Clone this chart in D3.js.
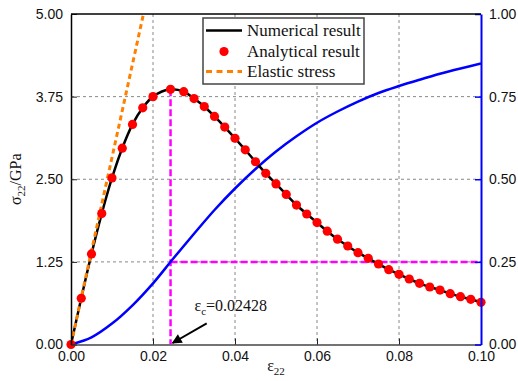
<!DOCTYPE html>
<html>
<head>
<meta charset="utf-8">
<script src="https://cdn.jsdelivr.net/npm/d3@7"></script>
<style>
  html, body { margin: 0; padding: 0; background: #fff; }
  svg { display: block; }
  .serif { font-family: "Liberation Serif", "DejaVu Serif", "Times New Roman", serif; }
  .sans { font-family: "Liberation Sans", Arial, sans-serif; }
</style>
</head>
<body>
<div id="chart"></div>
<script>
// ── Data ──────────────────────────────────────────────────────────────────────
const strain = [0, 0.0025, 0.005, 0.0075, 0.01, 0.0125, 0.015, 0.0175, 0.02, 0.02428,
  0.0275, 0.03, 0.0325, 0.035, 0.0375, 0.04, 0.0425, 0.045, 0.0475, 0.05,
  0.0525, 0.055, 0.0575, 0.06, 0.0625, 0.065, 0.0675, 0.07, 0.0725, 0.075,
  0.0775, 0.08, 0.0825, 0.085, 0.0875, 0.09, 0.0925, 0.095, 0.0975, 0.1];
const stress = [0, 0.70, 1.37, 1.98, 2.52, 2.97, 3.33, 3.58, 3.75, 3.86,
  3.825, 3.72, 3.60, 3.45, 3.29, 3.12, 2.945, 2.765, 2.59, 2.43,
  2.27, 2.11, 1.974, 1.845, 1.714, 1.593, 1.49, 1.389, 1.304, 1.218,
  1.132, 1.062, 0.991, 0.926, 0.87, 0.824, 0.769, 0.723, 0.684, 0.638];

const damageStrain = [0, 0.005, 0.01, 0.015, 0.02, 0.025, 0.03, 0.035, 0.04, 0.045, 0.05,
  0.055, 0.06, 0.065, 0.07, 0.075, 0.08, 0.085, 0.09, 0.095, 0.1];
const damage = [0, 0.0216, 0.0632, 0.1185, 0.185, 0.261, 0.335, 0.407, 0.472, 0.531, 0.584,
  0.630, 0.671, 0.705, 0.735, 0.761, 0.782, 0.801, 0.819, 0.835, 0.850];

const elasticStrain = [0, 0.01767];
const elasticStress = [0, 5];

const epsC = 0.02428;
const peakStress = 3.86;
const damageAtPeak = 0.25;

const xTicks = [0, 0.02, 0.04, 0.06, 0.08, 0.1];
const leftTicks = [0, 1.25, 2.5, 3.75, 5];
const rightTicks = [0, 0.25, 0.5, 0.75, 1];

const legendLabels = ['Numerical result', 'Analytical result', 'Elastic stress'];

// ── Layout ────────────────────────────────────────────────────────────────────
const W = 518, H = 381;
const L = 71, R = 481, T = 14, B = 344.5;

const x = d3.scaleLinear().domain([0, 0.1]).range([L, R]);
const yL = d3.scaleLinear().domain([0, 5]).range([B, T]);
const yR = d3.scaleLinear().domain([0, 1]).range([B, T]);

const svg = d3.select('#chart').append('svg')
  .attr('width', W).attr('height', H);

const defs = svg.append('defs');
defs.append('clipPath').attr('id', 'plot-clip')
  .append('rect').attr('x', L).attr('y', T).attr('width', R - L).attr('height', B - T);
defs.append('marker')
  .attr('id', 'arrow')
  .attr('viewBox', '0 0 10 10')
  .attr('refX', 9).attr('refY', 5)
  .attr('markerWidth', 5.5).attr('markerHeight', 5)
  .attr('markerUnits', 'strokeWidth')
  .attr('orient', 'auto')
  .append('path').attr('d', 'M0,0 L10,5 L0,10 Z').attr('fill', '#000');

// ── Grid ──────────────────────────────────────────────────────────────────────
const grid = svg.append('g');
xTicks.filter(d => d > 0 && d < 0.1).forEach(d => {
  grid.append('line')
    .attr('x1', x(d)).attr('x2', x(d)).attr('y1', T).attr('y2', B)
    .attr('stroke', '#888').attr('stroke-width', 1).attr('stroke-dasharray', '3,3');
});
leftTicks.filter(d => d > 0 && d < 5).forEach(d => {
  grid.append('line')
    .attr('x1', L).attr('x2', R).attr('y1', yL(d)).attr('y2', yL(d))
    .attr('stroke', '#888').attr('stroke-width', 1).attr('stroke-dasharray', '3,3');
});

const plot = svg.append('g').attr('clip-path', 'url(#plot-clip)');

// ── Critical strain guides ────────────────────────────────────────────────────
plot.append('line')
  .attr('x1', x(epsC)).attr('x2', x(epsC))
  .attr('y1', yL(peakStress)).attr('y2', B)
  .attr('stroke', '#ff00ff').attr('stroke-width', 2.5).attr('stroke-dasharray', '7,3');
plot.append('line')
  .attr('x1', x(epsC)).attr('x2', R)
  .attr('y1', yR(damageAtPeak)).attr('y2', yR(damageAtPeak))
  .attr('stroke', '#ff00ff').attr('stroke-width', 2.5).attr('stroke-dasharray', '7,3');

// ── Damage curve (right axis) ─────────────────────────────────────────────────
const damageLine = d3.line()
  .x((d, i) => x(damageStrain[i]))
  .y(d => yR(d))
  .curve(d3.curveCatmullRom);
plot.append('path')
  .attr('d', damageLine(damage))
  .attr('fill', 'none').attr('stroke', '#0000ff').attr('stroke-width', 2.5);

// ── Numerical stress curve ────────────────────────────────────────────────────
const stressLine = d3.line()
  .x((d, i) => x(strain[i]))
  .y(d => yL(d))
  .curve(d3.curveCatmullRom);
plot.append('path')
  .attr('d', stressLine(stress))
  .attr('fill', 'none').attr('stroke', '#000').attr('stroke-width', 2.5);

// ── Elastic stress ────────────────────────────────────────────────────────────
plot.append('path')
  .attr('d', d3.line().x((d, i) => x(elasticStrain[i])).y(d => yL(d))(elasticStress))
  .attr('fill', 'none').attr('stroke', '#ff8000').attr('stroke-width', 3)
  .attr('stroke-dasharray', '5,3.5');

// ── Analytical points ─────────────────────────────────────────────────────────
svg.append('g').selectAll('circle')
  .data(stress)
  .join('circle')
  .attr('cx', (d, i) => x(strain[i]))
  .attr('cy', d => yL(d))
  .attr('r', 4.6)
  .attr('fill', '#ff0000');

// ── Axes ──────────────────────────────────────────────────────────────────────
const fmt = d3.format('.2f');

const gx = svg.append('g').attr('transform', `translate(0,${B})`)
  .call(d3.axisBottom(x).tickValues(xTicks).tickFormat(fmt)
    .tickSizeInner(-6).tickSizeOuter(0).tickPadding(7));
gx.select('.domain').attr('stroke', '#444').attr('stroke-width', 1.5);
gx.selectAll('.tick line').attr('stroke', '#222').attr('stroke-width', 1);
gx.selectAll('.tick text').attr('class', 'sans').attr('font-family', null)
  .style('font-size', '14px').attr('fill', '#111');

const gl = svg.append('g').attr('transform', `translate(${L},0)`)
  .call(d3.axisLeft(yL).tickValues(leftTicks).tickFormat(fmt)
    .tickSizeInner(-6).tickSizeOuter(0).tickPadding(8));
gl.select('.domain').attr('stroke', '#000').attr('stroke-width', 1.5);
gl.selectAll('.tick line').attr('stroke', '#222').attr('stroke-width', 1);
gl.selectAll('.tick text').attr('class', 'sans').attr('font-family', null)
  .style('font-size', '14px').attr('fill', '#111');

const gr = svg.append('g').attr('transform', `translate(${R},0)`)
  .call(d3.axisRight(yR).tickValues(rightTicks).tickFormat(fmt)
    .tickSizeInner(-6).tickSizeOuter(0).tickPadding(8));
gr.select('.domain').attr('stroke', '#0000ff').attr('stroke-width', 2);
gr.selectAll('.tick line').attr('stroke', '#0000ff').attr('stroke-width', 1.5);
gr.selectAll('.tick text').attr('class', 'sans').attr('font-family', null)
  .style('font-size', '14px').attr('fill', '#111');

// top frame
svg.append('line')
  .attr('x1', L).attr('x2', R).attr('y1', T).attr('y2', T)
  .attr('stroke', '#000').attr('stroke-width', 1.5);

// ── Axis titles ───────────────────────────────────────────────────────────────
const yTitle = svg.append('text')
  .attr('class', 'serif')
  .attr('transform', `translate(21,${(T + B) / 2}) rotate(-90)`)
  .attr('text-anchor', 'middle')
  .style('font-size', '16px').attr('fill', '#111');
yTitle.append('tspan').text('σ');
yTitle.append('tspan').style('font-size', '11px').attr('dy', 4).text('22');
yTitle.append('tspan').attr('dy', -4).text('/GPa');

const xTitle = svg.append('text')
  .attr('class', 'serif')
  .attr('x', (L + R) / 2).attr('y', 371)
  .attr('text-anchor', 'middle')
  .style('font-size', '16px').attr('fill', '#111');
xTitle.append('tspan').text('ε');
xTitle.append('tspan').style('font-size', '11px').attr('dy', 4).text('22');

// ── Annotation ────────────────────────────────────────────────────────────────
const note = svg.append('text')
  .attr('class', 'serif')
  .attr('x', x(0.0301)).attr('y', yL(0.50))
  .style('font-size', '16px').attr('fill', '#111');
note.append('tspan').text('ε');
note.append('tspan').style('font-size', '11px').attr('dy', 4).text('c');
note.append('tspan').attr('dy', -4).text('=0.02428');

svg.append('line')
  .attr('x1', x(0.0331)).attr('y1', yL(0.32))
  .attr('x2', x(epsC) + 2).attr('y2', B - 1.5)
  .attr('stroke', '#000').attr('stroke-width', 2)
  .attr('marker-end', 'url(#arrow)');

// ── Legend ────────────────────────────────────────────────────────────────────
const lg = svg.append('g').attr('transform', 'translate(203,18)');
lg.append('rect')
  .attr('width', 161).attr('height', 66)
  .attr('fill', '#fff').attr('stroke', '#444').attr('stroke-width', 1.5);

const rowY = [12.5, 33.5, 53.5];
lg.append('line')
  .attr('x1', 3).attr('x2', 39).attr('y1', rowY[0]).attr('y2', rowY[0])
  .attr('stroke', '#000').attr('stroke-width', 2.5);
lg.append('circle')
  .attr('cx', 21).attr('cy', rowY[1]).attr('r', 4.6).attr('fill', '#ff0000');
lg.append('line')
  .attr('x1', 3).attr('x2', 39).attr('y1', rowY[2]).attr('y2', rowY[2])
  .attr('stroke', '#ff8000').attr('stroke-width', 3).attr('stroke-dasharray', '6,4.5');

legendLabels.forEach((t, i) => {
  lg.append('text')
    .attr('class', 'serif')
    .attr('x', 44).attr('y', rowY[i])
    .attr('dy', '0.35em')
    .style('font-size', '17px').attr('fill', '#111')
    .text(t);
});
</script>
</body>
</html>
